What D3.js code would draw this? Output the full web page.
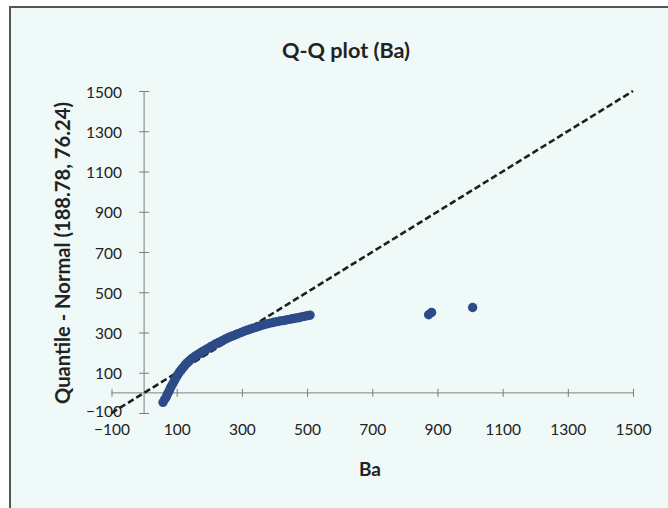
<!DOCTYPE html>
<html>
<head>
<meta charset="utf-8">
<script src="https://cdn.jsdelivr.net/npm/d3@7/dist/d3.min.js"></script>
<style>
  html, body { margin: 0; padding: 0; background: #ffffff; }
  svg { display: block; }
  text { font-family: Lato, "Open Sans", sans-serif; }
</style>
</head>
<body>
<svg id="chart" width="668" height="508"></svg>
<script>
// Observed Ba values (x) against normal quantiles N(188.78, 76.24) (y)
const baValues = [
  58, 63, 68, 72, 77, 81, 86, 91, 95, 100, 104, 109, 114, 118, 123, 127,
  132, 138, 144, 150, 156, 163, 169, 175, 181, 189, 196, 204, 212, 219,
  227, 235, 242, 250, 258, 265, 273, 281, 288, 298, 307, 316, 325, 334,
  344, 353, 362, 371, 380, 390, 399, 408, 417, 426, 436, 445, 454, 463,
  472, 482, 491, 500, 509,
  873, 882, 1008
];
const normalQuantiles = [
  -47, -33, -20, -5, 10, 25, 40, 54, 67, 80, 92, 104, 114, 123, 132, 141,
  149, 158, 167, 174, 182, 188, 194, 201, 207, 214, 221, 229, 236, 243,
  249, 255, 261, 268, 274, 279, 284, 289, 294, 300, 306, 311, 316, 321,
  326, 331, 336, 340, 344, 348, 351, 354, 357, 359, 362, 365, 368, 371,
  373, 377, 380, 383, 386,
  388, 400, 424
];
const xTickValues = [-100, 100, 300, 500, 700, 900, 1100, 1300, 1500];
const yTickValues = [-100, 100, 300, 500, 700, 900, 1100, 1300, 1500];
const refLine = [-100, 1500];   // y = x reference line end points

const points = baValues.map((v, i) => ({ x: v, y: normalQuantiles[i] }));

const svg = d3.select("#chart");

// chart frame
svg.append("rect")
  .attr("x", 10).attr("y", 7)
  .attr("width", 700).attr("height", 560)
  .attr("fill", "#eff9f7")
  .attr("stroke", "#555").attr("stroke-width", 2);

const x = d3.scaleLinear().domain([-100, 1500]).range([111.5, 633]);
const y = d3.scaleLinear().domain([-100, 1500]).range([413, 91]);

// shrink/grow a text element so it spans the given width
function fitWidth(sel, target) {
  const node = sel.node();
  const size = parseFloat(sel.attr("font-size"));
  const w = node.getComputedTextLength();
  sel.attr("font-size", (size * target / w).toFixed(2));
}

// title
const title = svg.append("text")
  .attr("x", 346).attr("y", 50)
  .attr("text-anchor", "middle").attr("dominant-baseline", "central")
  .attr("font-size", 18).attr("font-weight", "bold").attr("fill", "#222")
  .text("Q-Q plot (Ba)");
fitWidth(title, 128);

// axis titles
const yTitle = svg.append("text")
  .attr("transform", "translate(62,253) rotate(-90)")
  .attr("text-anchor", "middle").attr("dominant-baseline", "central")
  .attr("font-size", 18).attr("font-weight", "bold").attr("fill", "#222")
  .text("Quantile - Normal (188.78, 76.24)");
fitWidth(yTitle, 302);

const xTitle = svg.append("text")
  .attr("x", 370).attr("y", 468)
  .attr("text-anchor", "middle").attr("dominant-baseline", "central")
  .attr("font-size", 16).attr("font-weight", "bold").attr("fill", "#222")
  .text("Ba");
fitWidth(xTitle, 22);

// axis lines through the origin with ticks crossing them
const axisColor = "#7d7d7d";
const xTickAxis = d3.axisBottom(x).tickValues(xTickValues).tickSize(8).tickSizeOuter(0).tickFormat("");
const gxt = svg.append("g").attr("transform", `translate(0,${y(0) - 4})`).call(xTickAxis);
gxt.select(".domain").remove();
gxt.selectAll(".tick line").attr("stroke", axisColor);

const yTickAxis = d3.axisRight(y).tickValues(yTickValues).tickSize(10).tickSizeOuter(0).tickFormat("");
const gyt = svg.append("g").attr("transform", `translate(${x(0) - 5},0)`).call(yTickAxis);
gyt.select(".domain").remove();
gyt.selectAll(".tick line").attr("stroke", axisColor);

svg.append("line")
  .attr("x1", x(-100)).attr("x2", x(1500)).attr("y1", y(0)).attr("y2", y(0))
  .attr("stroke", axisColor).attr("stroke-width", 1);
svg.append("line")
  .attr("x1", x(0)).attr("x2", x(0)).attr("y1", y(-100)).attr("y2", y(1500))
  .attr("stroke", axisColor).attr("stroke-width", 1);

// tick labels at the low side of the plot
const labelSize = 15.5;
const xLabelAxis = d3.axisBottom(x).tickValues(xTickValues).tickSize(0).tickPadding(0).tickFormat(d3.format("d"));
const gxl = svg.append("g").attr("transform", "translate(0,429)").call(xLabelAxis);
gxl.select(".domain").remove();
gxl.selectAll(".tick text")
  .attr("y", 0).attr("dy", null).attr("dominant-baseline", "central")
  .attr("font-size", labelSize).attr("font-family", "Lato, sans-serif").attr("fill", "#222");

const yLabelAxis = d3.axisLeft(y).tickValues(yTickValues).tickSize(0).tickPadding(0).tickFormat(d3.format("d"));
const gyl = svg.append("g").attr("transform", "translate(122,0)").call(yLabelAxis);
gyl.select(".domain").remove();
gyl.selectAll(".tick text")
  .attr("x", 0).attr("dy", d => d === -100 ? -3 : null).attr("dominant-baseline", "central")
  .attr("font-size", labelSize).attr("font-family", "Lato, sans-serif").attr("fill", "#222");

// y = x reference line
svg.append("line")
  .attr("x1", x(refLine[0])).attr("y1", y(refLine[0]))
  .attr("x2", x(refLine[1])).attr("y2", y(refLine[1]))
  .attr("stroke", "#1e1e1e").attr("stroke-width", 2.6)
  .attr("stroke-dasharray", "6.5,3.2");

// sample points
svg.append("g").selectAll("circle")
  .data(points)
  .join("circle")
  .attr("cx", d => x(d.x))
  .attr("cy", d => y(d.y))
  .attr("r", 4.7)
  .attr("fill", "#2c4b88");
</script>
</body>
</html>
